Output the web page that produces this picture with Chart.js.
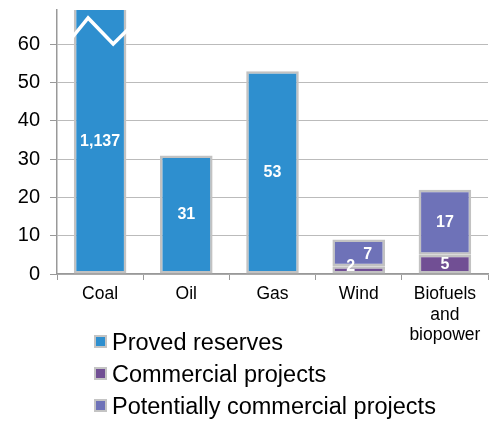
<!DOCTYPE html>
<html>
<head>
<meta charset="utf-8">
<script src="https://cdn.jsdelivr.net/npm/chart.js@4"></script>
<style>
    html, body { margin: 0; padding: 0; background: #fff; overflow: hidden; }
    #wrap { position: relative; width: 499px; height: 421px; }
    #chart { display: block; }
    #legend { position: absolute; left: 94px; top: 326px; font-family: "Liberation Sans", Arial, sans-serif; font-size: 23.5px; color: #000; }
    #legend div { height: 32px; line-height: 32px; white-space: nowrap; }
    #legend span.box { display: inline-block; width: 9px; height: 9px; border: 2px solid #c4c4c4; margin-right: 5px; vertical-align: 2px; }
</style>
</head>
<body>
<div id="wrap">
    <canvas id="chart" width="499" height="421"></canvas>
    <div id="legend"></div>
</div>
<script>
// categories and values
const categories = ['Coal', 'Oil', 'Gas', 'Wind', ['Biofuels', 'and', 'biopower']];
const provedReserves = [1137, 31, 53, null, null];
const commercialProjects = [null, null, null, 2, 5];
const potentialProjects = [null, null, null, 7, 17];
const yTicks = [0, 10, 20, 30, 40, 50, 60];

const seriesNames = ['Proved reserves', 'Commercial projects', 'Potentially commercial projects'];
const seriesColors = ['#2e8fcf', '#714f94', '#6e72b8'];

// value labels drawn inside bars, white bold
const barLabels = {
    id: 'barLabels',
    afterDatasetsDraw(chart) {
        const ctx = chart.ctx;
        const area = chart.chartArea;
        const nudge = { '1-3': [-8, -3], '2-3': [9, 2] };
        ctx.save();
        ctx.fillStyle = '#fff';
        ctx.font = 'bold 16px "Liberation Sans", Arial, sans-serif';
        ctx.textAlign = 'center';
        ctx.textBaseline = 'middle';
        chart.data.datasets.forEach((ds, di) => {
            chart.getDatasetMeta(di).data.forEach((bar, i) => {
                const v = ds.data[i];
                if (v == null) return;
                const top = Math.max(bar.y, area.top);
                const bottom = Math.min(bar.base, area.bottom);
                const off = nudge[di + '-' + i] || [0, 0];
                ctx.fillText(v.toLocaleString('en-US'), bar.x + off[0], (top + bottom) / 2 + off[1]);
            });
        });
        ctx.restore();
    }
};

// white zigzag "break" on the bar that runs off the axis
const axisBreak = {
    id: 'axisBreak',
    afterDatasetsDraw(chart) {
        const ctx = chart.ctx;
        const area = chart.chartArea;
        const max = chart.scales.y.max;
        chart.getDatasetMeta(0).data.forEach((bar, i) => {
            if (provedReserves[i] == null || provedReserves[i] <= max) return;
            const w = bar.width + 2;
            const left = bar.x - w / 2;
            ctx.save();
            ctx.strokeStyle = '#fff';
            ctx.lineWidth = 3.5;
            ctx.beginPath();
            ctx.moveTo(left - 1, area.top + 28);
            ctx.lineTo(left + w * 0.28, area.top + 8);
            ctx.lineTo(left + w * 0.74, area.top + 34);
            ctx.lineTo(left + w + 1, area.top + 19);
            ctx.stroke();
            ctx.restore();
        });
    }
};

const datasets = [provedReserves, commercialProjects, potentialProjects].map((d, k) => ({
    label: seriesNames[k],
    data: d,
    backgroundColor: seriesColors[k],
    borderColor: '#c2c2c2',
    borderWidth: 2.5,
    borderSkipped: false,
    categoryPercentage: 1,
    barPercentage: 0.61
}));

const chart = new Chart(document.getElementById('chart'), {
    type: 'bar',
    data: { labels: categories, datasets: datasets },
    options: {
        responsive: false,
        animation: false,
        layout: { padding: { top: 10, right: 11, left: 0, bottom: 0 } },
        plugins: {
            legend: { display: false },
            tooltip: { enabled: false }
        },
        scales: {
            x: {
                stacked: true,
                afterFit: s => { s.height = 147; s.paddingLeft = 0; s.paddingRight = 0; },
                grid: { offset: true, drawOnChartArea: false, drawTicks: true, tickLength: 6, color: '#999' },
                border: { color: '#999', width: 1.5 },
                ticks: { color: '#000', padding: 4, font: { family: '"Liberation Sans", Arial, sans-serif', size: 17.5, lineHeight: 1.17 } }
            },
            y: {
                stacked: true,
                min: 0,
                max: 69,
                afterFit: s => { s.width = 57; s.paddingTop = 0; s.paddingBottom = 0; },
                afterBuildTicks: s => { s.ticks = yTicks.map(v => ({ value: v })); },
                grid: { color: '#bbb', borderDash: [2, 2], tickColor: '#999', tickBorderDash: [], tickLength: 7 },
                border: { color: '#999', width: 1.5 },
                ticks: { color: '#000', padding: 10, font: { family: '"Liberation Sans", Arial, sans-serif', size: 20 } }
            }
        }
    },
    plugins: [barLabels, axisBreak]
});

// legend, one item per row
const legend = document.getElementById('legend');
chart.data.datasets.forEach(ds => {
    const row = document.createElement('div');
    const box = document.createElement('span');
    box.className = 'box';
    box.style.background = ds.backgroundColor;
    row.appendChild(box);
    row.appendChild(document.createTextNode(ds.label));
    legend.appendChild(row);
});
</script>
</body>
</html>
